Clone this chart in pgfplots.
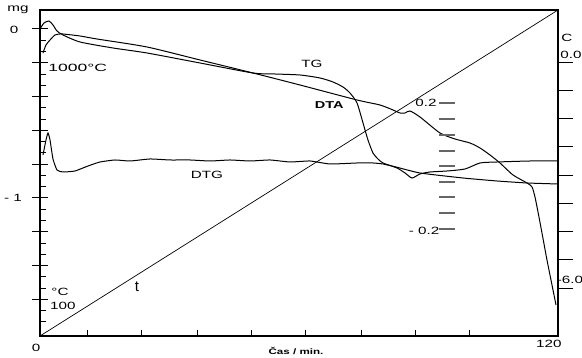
\documentclass[border=0pt]{standalone}
\usepackage{pgfplots}
\pgfplotsset{compat=1.18}
\usepackage{fontspec}
\setmainfont{Liberation Sans}[FakeStretch=1.45]
\newfontfamily\plainfont{Liberation Sans}
\begin{document}
\begin{tikzpicture}[x=1pt,y=1pt]
\useasboundingbox (0,0) rectangle (582,358);
\begin{axis}[
  at={(40pt,22pt)}, anchor=south west,
  scale only axis, width=518pt, height=326pt,
  xmin=0, xmax=120, ymin=-1.8166, ymax=0.1124,
  axis line style={line width=1.6pt},
  clip=false,
  every tick/.style={black, line width=1pt},
  xtick={10.9,23.6,36.4,49.1,61.6,74.4,87.1,99.6},
  xticklabels={}, xtick pos=left, xtick align=inside,
  ytick={-0.0667,-0.1333,-0.2667,-0.3333,-0.4667,-0.5333,-0.6667,-0.7333,-0.8667,-0.9333,-1.0667,-1.1333,-1.2667,-1.3333,-1.4667,-1.5333,-1.6667,-1.7333},
  yticklabels={}, ytick pos=left, ytick align=inside,
  major tick length=6pt,
  extra y ticks={0,-0.2,-0.4,-0.6,-0.8,-1,-1.2,-1.4,-1.6},
  extra y tick labels={},
  extra y tick style={tick align=center, major tick length=16pt},
  font=\fontsize{10.5}{12}\selectfont,
]
% temperature line t
\addplot[black, line width=0.7pt] coordinates {(0,-1.8166) (120,0.1124)};
% TG
\addplot[black, line width=1pt, smooth, tension=0.4] coordinates {
(0,0) (0.93,0.0355) (2.08,0.0473) (3.01,0.0237) (3.94,-0.0118) (5.33,-0.0355)
(9.27,-0.0769) (16.91,-0.1124) (24.79,-0.1420) (37.07,-0.2012) (49.34,-0.2604)
(54.44,-0.2663) (60.23,-0.2722) (64.86,-0.2899) (67.88,-0.3136) (70.19,-0.3432)
(71.81,-0.3787) (73.44,-0.4379) (74.83,-0.5562) (75.98,-0.6568) (77.14,-0.7337)
(78.30,-0.7692) (79.46,-0.7929) (82.70,-0.8225) (84.56,-0.8521) (86.18,-0.8817)
(88.03,-0.8580) (90.35,-0.8462) (94.29,-0.8402) (98.46,-0.8284) (101.93,-0.7929)
(105.87,-0.7870) (113.51,-0.7811) (120,-0.7811)};
% DTA
\addplot[black, line width=1pt, smooth, tension=0.4] coordinates {
(0.69,-0.1420) (1.39,-0.0947) (2.32,-0.0651) (3.47,-0.0355) (4.63,-0.0296) (5.33,-0.0296)
(9.27,-0.0414) (13.20,-0.0592) (24.79,-0.1065) (37.07,-0.1834) (49.34,-0.2604)
(60.23,-0.3314) (73.44,-0.4201) (78.76,-0.4497) (81.78,-0.4793) (83.40,-0.4970)
(84.56,-0.4970) (85.71,-0.4852) (88.03,-0.5207) (92.66,-0.6154) (96.14,-0.6509)
(99.61,-0.6746) (101.93,-0.7041) (104.25,-0.7456) (106.56,-0.7929) (109.58,-0.8639)
(112.82,-0.9112) (113.98,-0.9349) (114.67,-0.9941) (115.37,-1.0828) (116.29,-1.2071)
(117.45,-1.3669) (118.61,-1.5148) (119.54,-1.6331)};
% DTG
\addplot[black, line width=1pt, smooth, tension=0.3] coordinates {
(0.69,-0.7456) (1.39,-0.6568) (1.85,-0.6154) (2.32,-0.6568) (3.01,-0.7692) (3.94,-0.8343)
(5.33,-0.8462) (8.11,-0.8402) (11.12,-0.8107) (13.90,-0.7870) (17.37,-0.7751)
(20.85,-0.7811) (25.48,-0.7692) (30.12,-0.7751) (34.75,-0.7751) (39.38,-0.7811)
(44.02,-0.7751) (48.65,-0.7811) (53.28,-0.7751) (57.92,-0.7870) (62.55,-0.7811)
(67.18,-0.7988) (73.44,-0.7929) (77.14,-0.7929) (79.46,-0.7988) (82.47,-0.8166)
(88.03,-0.8521) (97.99,-0.8817) (105.87,-0.8994) (112.82,-0.9112) (120,-0.9172)};
% DTA scale ticks
\addplot[only marks, mark=-, mark size=8pt, black!60, mark options={line width=1.2pt}] coordinates {
(94.29,-0.4379) (94.29,-0.5325) (94.29,-0.6272) (94.29,-0.7219) (94.29,-0.8107)
(94.29,-0.9053) (94.29,-0.9941) (94.29,-1.0888) (94.29,-1.1834)};
% labels
\node at (axis cs:-5.10,0.1124) {mg};
\node at (axis cs:-6.02,-0.0059) {0};
\node at (axis cs:-6.25,-1.0) {- 1};
\node[anchor=west, inner sep=0pt] at (axis cs:1.9,-0.2308) {\scalebox{1.15}[1]{1000°C}};
\node at (axis cs:4.63,-1.556) {°C};
\node at (axis cs:5.30,-1.639) {100};
\node[font=\plainfont\fontsize{15}{17}\selectfont] at (axis cs:22.47,-1.527) {t};
\node at (axis cs:-0.93,-1.888) {0};
\node at (axis cs:117.9,-1.864) {120};
\node[font=\bfseries\fontsize{8}{10}\selectfont] at (axis cs:59.3,-1.905) {Čas / min.};
\node at (axis cs:63.0,-0.2071) {TG};
\node[font=\bfseries\fontsize{10}{12}\selectfont] at (axis cs:67.0,-0.4497) {DTA};
\node at (axis cs:38.69,-0.864) {DTG};
\node at (axis cs:89.42,-0.4379) {0.2};
\node at (axis cs:88.96,-1.195) {- 0.2};
\node at (axis cs:122.08,-0.0533) {C};
\node at (axis cs:123.01,-0.1538) {0.0};
\node at (axis cs:122.78,-1.485) {-6.0};
\end{axis}
\begin{axis}[
  at={(40pt,22pt)}, anchor=south west,
  scale only axis, width=518pt, height=326pt,
  xmin=0, xmax=120, ymin=-7.274, ymax=1.381,
  axis x line=none, axis y line*=right,
  axis line style={line width=1.6pt, -},
  every tick/.style={black, line width=1pt},
  ytick={0,-0.75,-1.5,-2.25,-3,-3.75,-4.5,-5.25,-6},
  yticklabels={}, ytick align=outside, major tick length=15pt,
]
\addplot[draw=none] coordinates {(0,0)};
\end{axis}
\end{tikzpicture}
\end{document}
